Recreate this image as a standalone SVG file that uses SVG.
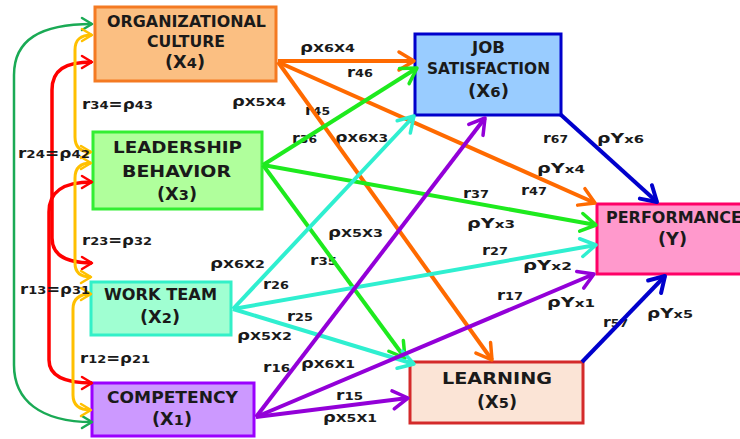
<svg xmlns="http://www.w3.org/2000/svg" width="740" height="439" viewBox="0 0 740 439">
<style>
.nt{font-family:"DejaVu Sans","Liberation Sans",sans-serif;font-weight:bold;font-size:15.5px;fill:#1a1a1a}
.nt2{font-family:"DejaVu Sans","Liberation Sans",sans-serif;font-weight:bold;font-size:17px;fill:#1a1a1a}
.lb{font-family:"DejaVu Sans","Liberation Sans",sans-serif;font-weight:bold;font-size:14px;fill:#1a1a1a}
.s{font-size:11px}
.d{font-size:14px}
.c{fill:none;stroke-width:4}
.box{stroke-width:3}
</style>
<defs>
<marker id="mO" markerUnits="userSpaceOnUse" markerWidth="30" markerHeight="30" orient="auto" overflow="visible"><path d="M-15,-9 L0,0 L-15,9" fill="none" stroke="#FF6A00" stroke-width="3.5" stroke-linecap="round" stroke-linejoin="round"/></marker>
<marker id="mG" markerUnits="userSpaceOnUse" markerWidth="30" markerHeight="30" orient="auto" overflow="visible"><path d="M-15,-9 L0,0 L-15,9" fill="none" stroke="#1EEA1E" stroke-width="3.5" stroke-linecap="round" stroke-linejoin="round"/></marker>
<marker id="mT" markerUnits="userSpaceOnUse" markerWidth="30" markerHeight="30" orient="auto" overflow="visible"><path d="M-15,-9 L0,0 L-15,9" fill="none" stroke="#2FEFD0" stroke-width="3.5" stroke-linecap="round" stroke-linejoin="round"/></marker>
<marker id="mP" markerUnits="userSpaceOnUse" markerWidth="30" markerHeight="30" orient="auto" overflow="visible"><path d="M-15,-9 L0,0 L-15,9" fill="none" stroke="#9300D8" stroke-width="3.5" stroke-linecap="round" stroke-linejoin="round"/></marker>
<marker id="mB" markerUnits="userSpaceOnUse" markerWidth="30" markerHeight="30" orient="auto" overflow="visible"><path d="M-15,-9 L0,0 L-15,9" fill="none" stroke="#0000CC" stroke-width="4" stroke-linecap="round" stroke-linejoin="round"/></marker>
<marker id="mR" markerUnits="userSpaceOnUse" markerWidth="30" markerHeight="30" orient="auto-start-reverse" overflow="visible"><path d="M-10,-6 L0,0 L-10,6" fill="none" stroke="#FF0000" stroke-width="2.5" stroke-linecap="round" stroke-linejoin="round"/></marker>
<marker id="mY" markerUnits="userSpaceOnUse" markerWidth="30" markerHeight="30" orient="auto-start-reverse" overflow="visible"><path d="M-10,-6 L0,0 L-10,6" fill="none" stroke="#FFC000" stroke-width="2.5" stroke-linecap="round" stroke-linejoin="round"/></marker>
<marker id="mD" markerUnits="userSpaceOnUse" markerWidth="30" markerHeight="30" orient="auto-start-reverse" overflow="visible"><path d="M-10,-6 L0,0 L-10,6" fill="none" stroke="#1AAA55" stroke-width="2.5" stroke-linecap="round" stroke-linejoin="round"/></marker>
</defs>
<rect width="740" height="439" fill="#ffffff"/>
<g id="labels-paths">
<text class="lb" x="300" y="52" textLength="55" lengthAdjust="spacingAndGlyphs">ρ<tspan class="s">X6X4</tspan></text>
<text class="lb" x="347" y="77" textLength="26" lengthAdjust="spacingAndGlyphs">r<tspan class="s">46</tspan></text>
<text class="lb" x="232" y="106" textLength="54" lengthAdjust="spacingAndGlyphs">ρ<tspan class="s">X5X4</tspan></text>
<text class="lb" x="305" y="115" textLength="25" lengthAdjust="spacingAndGlyphs">r<tspan class="s">45</tspan></text>
<text class="lb" x="292" y="143" textLength="25" lengthAdjust="spacingAndGlyphs">r<tspan class="s">36</tspan></text>
<text class="lb" x="335" y="142" textLength="53" lengthAdjust="spacingAndGlyphs">ρ<tspan class="s">X6X3</tspan></text>
<text class="lb" x="543" y="143" textLength="25" lengthAdjust="spacingAndGlyphs">r<tspan class="s">67</tspan></text>
<text class="lb" x="597" y="143" textLength="47" lengthAdjust="spacingAndGlyphs">ρY<tspan class="s">x6</tspan></text>
<text class="lb" x="537" y="173" textLength="48" lengthAdjust="spacingAndGlyphs">ρY<tspan class="s">x4</tspan></text>
<text class="lb" x="521" y="195" textLength="26" lengthAdjust="spacingAndGlyphs">r<tspan class="s">47</tspan></text>
<text class="lb" x="463" y="198" textLength="26" lengthAdjust="spacingAndGlyphs">r<tspan class="s">37</tspan></text>
<text class="lb" x="467" y="228" textLength="48" lengthAdjust="spacingAndGlyphs">ρY<tspan class="s">x3</tspan></text>
<text class="lb" x="482" y="255" textLength="26" lengthAdjust="spacingAndGlyphs">r<tspan class="s">27</tspan></text>
<text class="lb" x="523" y="270" textLength="49" lengthAdjust="spacingAndGlyphs">ρY<tspan class="s">x2</tspan></text>
<text class="lb" x="497" y="300" textLength="26" lengthAdjust="spacingAndGlyphs">r<tspan class="s">17</tspan></text>
<text class="lb" x="547" y="307" textLength="48" lengthAdjust="spacingAndGlyphs">ρY<tspan class="s">x1</tspan></text>
<text class="lb" x="603" y="327" textLength="25" lengthAdjust="spacingAndGlyphs">r<tspan class="s">57</tspan></text>
<text class="lb" x="647" y="318" textLength="46" lengthAdjust="spacingAndGlyphs">ρY<tspan class="s">x5</tspan></text>
<text class="lb" x="328" y="237" textLength="55" lengthAdjust="spacingAndGlyphs">ρ<tspan class="s">X5X3</tspan></text>
<text class="lb" x="310" y="265" textLength="27" lengthAdjust="spacingAndGlyphs">r<tspan class="s">35</tspan></text>
<text class="lb" x="210" y="268" textLength="55" lengthAdjust="spacingAndGlyphs">ρ<tspan class="s">X6X2</tspan></text>
<text class="lb" x="263" y="289" textLength="26" lengthAdjust="spacingAndGlyphs">r<tspan class="s">26</tspan></text>
<text class="lb" x="287" y="321" textLength="26" lengthAdjust="spacingAndGlyphs">r<tspan class="s">25</tspan></text>
<text class="lb" x="237" y="340" textLength="55" lengthAdjust="spacingAndGlyphs">ρ<tspan class="s">X5X2</tspan></text>
<text class="lb" x="263" y="372" textLength="27" lengthAdjust="spacingAndGlyphs">r<tspan class="s">16</tspan></text>
<text class="lb" x="301" y="368" textLength="54" lengthAdjust="spacingAndGlyphs">ρ<tspan class="s">X6X1</tspan></text>
<text class="lb" x="336" y="400" textLength="27" lengthAdjust="spacingAndGlyphs">r<tspan class="s">15</tspan></text>
<text class="lb" x="323" y="422" textLength="54" lengthAdjust="spacingAndGlyphs">ρ<tspan class="s">X5X1</tspan></text>
</g>
<g id="node-X4">
<rect class="box" x="95" y="7" width="181" height="74" fill="#FBBF82" stroke="#F47A22"/>
<text class="nt" x="107" y="27" textLength="159" lengthAdjust="spacingAndGlyphs">ORGANIZATIONAL</text>
<text class="nt" x="147" y="47" textLength="78" lengthAdjust="spacingAndGlyphs">CULTURE</text>
<text class="nt2" x="165" y="68" textLength="40" lengthAdjust="spacingAndGlyphs">(X<tspan class="d">4</tspan>)</text>
</g>
<g id="node-X3">
<rect class="box" x="93" y="132" width="169" height="77" fill="#B0FF9C" stroke="#33EE33"/>
<text class="nt" x="113" y="153" textLength="129" lengthAdjust="spacingAndGlyphs">LEADERSHIP</text>
<text class="nt" x="122" y="177" textLength="109" lengthAdjust="spacingAndGlyphs">BEHAVIOR</text>
<text class="nt2" x="157" y="200" textLength="40" lengthAdjust="spacingAndGlyphs">(X<tspan class="d">3</tspan>)</text>
</g>
<g id="node-X2">
<rect class="box" x="91" y="282" width="140" height="53" fill="#A0FFD2" stroke="#33F0C8"/>
<text class="nt" x="104" y="300" textLength="113" lengthAdjust="spacingAndGlyphs">WORK TEAM</text>
<text class="nt2" x="140" y="323" textLength="40" lengthAdjust="spacingAndGlyphs">(X<tspan class="d">2</tspan>)</text>
</g>
<g id="node-X1">
<rect class="box" x="92" y="383" width="162" height="53" fill="#CC99FF" stroke="#9A00FF"/>
<text class="nt" x="107" y="403" textLength="131" lengthAdjust="spacingAndGlyphs">COMPETENCY</text>
<text class="nt2" x="152" y="425" textLength="40" lengthAdjust="spacingAndGlyphs">(X<tspan class="d">1</tspan>)</text>
</g>
<g id="node-X6">
<rect class="box" x="415" y="34" width="146" height="81" fill="#99CCFF" stroke="#0000CC"/>
<text class="nt" x="472" y="53" textLength="33" lengthAdjust="spacingAndGlyphs">JOB</text>
<text class="nt" x="427" y="74" textLength="123" lengthAdjust="spacingAndGlyphs">SATISFACTION</text>
<text class="nt2" x="468" y="97" textLength="41" lengthAdjust="spacingAndGlyphs">(X<tspan class="d">6</tspan>)</text>
</g>
<g id="node-X5">
<rect class="box" x="410" y="362" width="173" height="61" fill="#FBE4D6" stroke="#D42A2A"/>
<text class="nt" x="442" y="384" textLength="110" lengthAdjust="spacingAndGlyphs">LEARNING</text>
<text class="nt2" x="477" y="408" textLength="40" lengthAdjust="spacingAndGlyphs">(X<tspan class="d">5</tspan>)</text>
</g>
<g id="node-Y">
<rect class="box" x="597" y="204" width="160" height="70" fill="#FF99CC" stroke="#FF0066"/>
<text class="nt" x="606" y="223" textLength="136" lengthAdjust="spacingAndGlyphs">PERFORMANCE</text>
<text class="nt2" x="658" y="245" textLength="29" lengthAdjust="spacingAndGlyphs">(Y)</text>
</g>
<g id="connectors">
<path d="M92,24 C40,24 14,40 14,75 L14,365 C14,400 40,422 92,422" fill="none" stroke="#1AAA55" stroke-width="2.5" marker-start="url(#mD)" marker-end="url(#mD)"/>
<path d="M92,62 C65,62 52,70 52,90 L52,238 C52,255 65,263 92,263" fill="none" stroke="#FF0000" stroke-width="3.5" marker-start="url(#mR)" marker-end="url(#mR)"/>
<path d="M92,182 C62,182 49,192 49,212 L49,360 C49,375 62,383 92,383" fill="none" stroke="#FF0000" stroke-width="3.5" marker-start="url(#mR)" marker-end="url(#mR)"/>
<path d="M92,35 C80,35 75,40 75,50 L75,137 C75,147 80,152 91,152" fill="none" stroke="#FFC000" stroke-width="3" marker-start="url(#mY)" marker-end="url(#mY)"/>
<path d="M91,163 C80,163 75,168 75,178 L75,263 C75,272 80,277 91,277" fill="none" stroke="#FFC000" stroke-width="3" marker-start="url(#mY)" marker-end="url(#mY)"/>
<path d="M91,294 C79,294 73,299 73,309 L73,395 C73,405 79,410 91,410" fill="none" stroke="#FFC000" stroke-width="3" marker-start="url(#mY)" marker-end="url(#mY)"/>
<path class="c" d="M278,61 L414,61" stroke="#FF6A00" marker-end="url(#mO)"/>
<path class="c" d="M278,62 L595,203" stroke="#FF6A00" marker-end="url(#mO)"/>
<path class="c" d="M278,62 L492,360" stroke="#FF6A00" marker-end="url(#mO)"/>
<path class="c" d="M263,165 L417,68" stroke="#1EEA1E" marker-end="url(#mG)"/>
<path class="c" d="M263,165 L596,225" stroke="#1EEA1E" marker-end="url(#mG)"/>
<path class="c" d="M263,165 L405,358" stroke="#1EEA1E" marker-end="url(#mG)"/>
<path class="c" d="M233,309 L414,116" stroke="#2FEFD0" marker-end="url(#mT)"/>
<path class="c" d="M233,309 L596,245" stroke="#2FEFD0" marker-end="url(#mT)"/>
<path class="c" d="M233,309 L414,364" stroke="#2FEFD0" marker-end="url(#mT)"/>
<path class="c" d="M256,417 L485,118" stroke="#9300D8" marker-end="url(#mP)"/>
<path class="c" d="M256,417 L594,274" stroke="#9300D8" marker-end="url(#mP)"/>
<path class="c" d="M256,417 L408,398" stroke="#9300D8" marker-end="url(#mP)"/>
<path class="c" d="M560,114 L657,202" stroke="#0000CC" stroke-width="5" marker-end="url(#mB)"/>
<path class="c" d="M582,362 L665,276" stroke="#0000CC" stroke-width="5" marker-end="url(#mB)"/>
</g>
<g id="labels-correlations">
<text class="lb" x="82" y="109" textLength="71" lengthAdjust="spacingAndGlyphs">r<tspan class="s">34</tspan>=ρ<tspan class="s">43</tspan></text>
<text class="lb" x="18" y="158" textLength="72" lengthAdjust="spacingAndGlyphs">r<tspan class="s">24</tspan>=ρ<tspan class="s">42</tspan></text>
<text class="lb" x="82" y="245" textLength="70" lengthAdjust="spacingAndGlyphs">r<tspan class="s">23</tspan>=ρ<tspan class="s">32</tspan></text>
<text class="lb" x="20" y="294" textLength="70" lengthAdjust="spacingAndGlyphs">r<tspan class="s">13</tspan>=ρ<tspan class="s">31</tspan></text>
<text class="lb" x="80" y="363" textLength="70" lengthAdjust="spacingAndGlyphs">r<tspan class="s">12</tspan>=ρ<tspan class="s">21</tspan></text>
</g>
</svg>
